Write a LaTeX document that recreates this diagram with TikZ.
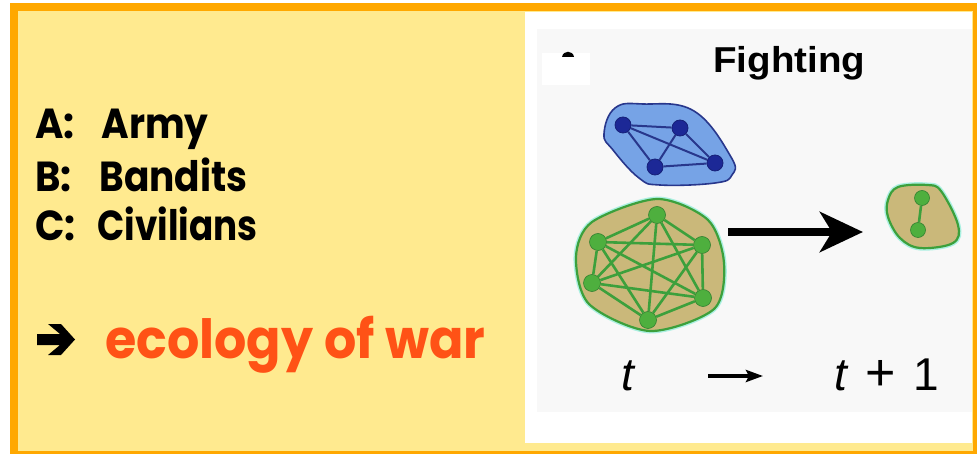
\documentclass[tikz,border=0pt]{standalone}
\usepackage{graphicx}
\usepackage{fontspec}
\setmainfont{Liberation Sans}
\newfontfamily\comicfont{Poppins}
\usetikzlibrary{arrows.meta}
\definecolor{frameorange}{RGB}{255,168,0}
\definecolor{paleyellow}{RGB}{255,234,143}
\definecolor{panelgrey}{RGB}{248,248,248}
\definecolor{warred}{RGB}{255,82,22}
\definecolor{blobblue}{RGB}{118,163,230}
\definecolor{blobblueline}{RGB}{40,55,140}
\definecolor{nodeblue}{RGB}{28,40,150}
\definecolor{blobkhaki}{RGB}{202,184,122}
\definecolor{blobgreen}{RGB}{60,160,60}
\definecolor{nodegreen}{RGB}{78,175,62}
\definecolor{halo}{RGB}{170,240,225}
\tikzset{
  listtext/.style={anchor=base west, inner sep=0pt, xscale=0.92, font=\comicfont\bfseries\fontsize{42}{44}\selectfont},
  bluenode/.style={circle, fill=nodeblue, draw=nodeblue!80!black, line width=0.8pt, minimum size=16pt, inner sep=0pt},
  greennode/.style={circle, fill=nodegreen, draw=blobgreen!80!black, line width=0.6pt, minimum size=17pt, inner sep=0pt},
  smallgreen/.style={greennode, minimum size=15pt},
  blueedge/.style={draw=blobblueline, line width=2pt},
  greenedge/.style={draw=blobgreen, line width=2.6pt},
  mathtext/.style={anchor=base west, inner sep=0pt, font=\fontsize{46}{48}\selectfont}
}
\begin{document}
\begin{tikzpicture}[x=1pt,y=-1pt]
\useasboundingbox (0,0) rectangle (977,454);
\begin{scope}
\clip (0,0) rectangle (977,454);
% background
\fill[paleyellow] (14,7) rectangle (977,455);
\fill[white] (525,12) rectangle (972,443);
\fill[panelgrey] (537,29) rectangle (972,412);
\fill[white] (542,53) rectangle (590,85);
\fill (562,57) .. controls (563,50) and (573,50) .. (574,57) -- cycle;
\draw[frameorange, line width=8pt] (14,7) rectangle (977,455);
\end{scope}

% left texts
\node[listtext] (a) at (35,139) {\makebox[72pt][l]{A:}\scalebox{0.97}[1]{Army}};
\node[listtext] (b) at (35,192) {\makebox[70pt][l]{B:}\scalebox{0.97}[1]{Bandits}};
\node[listtext] (c) at (35,241) {\makebox[68pt][l]{C:}\scalebox{0.925}[1]{Civilians}};
\fill (37,334) -- (60,334) -- (48,324) -- (61,324) -- (75,339.5) -- (61,355) -- (48,355) -- (60,345) -- (37,345) -- cycle;
\node[anchor=base west, inner sep=0pt, text=warred, xscale=0.94, font=\comicfont\bfseries\fontsize{54}{56}\selectfont] (eco) at (105,358) {ecology of war};

% title
\node[anchor=base west, inner sep=0pt, xscale=1.07, font=\bfseries\fontsize{36}{38}\selectfont] (fight) at (713,73) {Fighting};

% blue blob
\filldraw[fill=blobblue, draw=blobblueline, line width=1.6pt]
  plot[smooth cycle, tension=0.7] coordinates {(604,134) (615,108) (643,104) (694,111) (731,157) (732,175) (715,183) (660,185) (639,178) (613,150)};
\node[bluenode] (b1) at (623,125) {};
\node[bluenode] (b2) at (680,128) {};
\node[bluenode] (b3) at (655,167) {};
\node[bluenode] (b4) at (715,163) {};
\foreach \u/\v in {b1/b2,b1/b3,b1/b4,b2/b3,b2/b4,b3/b4}
  \draw[blueedge] (\u) -- (\v);

% green blob
\draw[halo, line width=5pt]
  plot[smooth cycle, tension=0.5] coordinates {(657,199) (708,220) (724,263) (714,309) (650,331) (589,304) (576,257) (592,222)};
\filldraw[fill=blobkhaki, draw=blobgreen, line width=2.2pt]
  plot[smooth cycle, tension=0.5] coordinates {(657,199) (708,220) (724,263) (714,309) (650,331) (589,304) (576,257) (592,222)};
\node[greennode] (g1) at (657,215) {};
\node[greennode] (g2) at (598,242) {};
\node[greennode] (g3) at (702,245) {};
\node[greennode] (g4) at (592,283) {};
\node[greennode] (g5) at (703,298) {};
\node[greennode] (g6) at (648,320) {};
\foreach \u/\v in {g1/g2,g1/g3,g1/g4,g1/g5,g1/g6,g2/g3,g2/g4,g2/g5,g2/g6,g3/g4,g3/g5,g3/g6,g4/g5,g4/g6,g5/g6}
  \draw[greenedge] (\u) -- (\v);

% small blob
\draw[halo, line width=5pt]
  plot[smooth cycle, tension=0.6] coordinates {(888,200) (898,187) (927,185) (941,191) (958,225) (953,243) (920,248) (900,238) (888,217)};
\filldraw[fill=blobkhaki, draw=blobgreen, line width=2.2pt]
  plot[smooth cycle, tension=0.6] coordinates {(888,200) (898,187) (927,185) (941,191) (958,225) (953,243) (920,248) (900,238) (888,217)};
\node[smallgreen] (s1) at (922,198) {};
\node[smallgreen] (s2) at (918,230) {};
\draw[greenedge] (s1) -- (s2);

% big arrow
\coordinate (arrS) at (728,232);
\coordinate (arrE) at (863,232);
\draw[line width=8pt, -{Stealth[length=43pt, width=40pt, inset=12pt]}] (arrS) -- (arrE);

% time labels
\node[mathtext] (t0) at (621,390) {\itshape t};
\coordinate (tS) at (708,376);
\coordinate (tE) at (763,376);
\draw[line width=3.5pt, -{Stealth[length=17pt, width=12pt, inset=3pt]}] (tS) -- (tE);
\node[mathtext] (t1) at (834,390) {\itshape t};
\node[mathtext, font=\fontsize{52}{54}\selectfont] (plus) at (865,390) {+};
\node[mathtext] (one) at (913,390) {1};
\end{tikzpicture}
\end{document}
